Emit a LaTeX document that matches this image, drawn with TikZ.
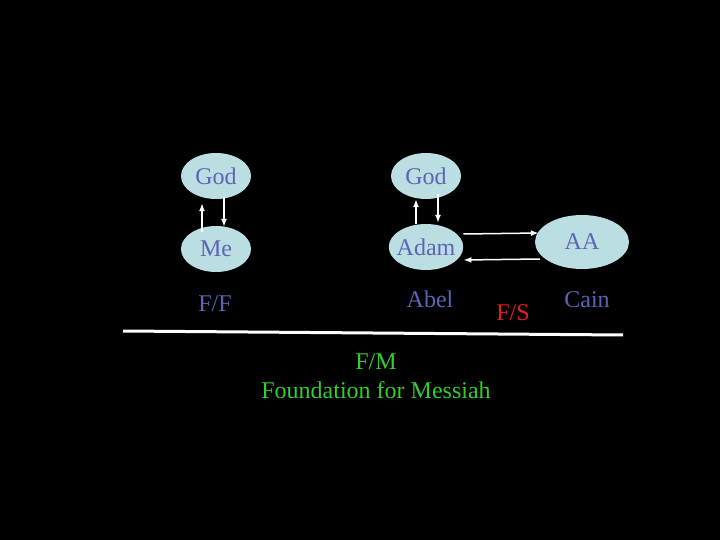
\documentclass[tikz,border=0pt]{standalone}
\usepackage{fontspec}
\setmainfont{Liberation Serif}
\usetikzlibrary{arrows,arrows.meta,positioning,shapes.geometric}
\definecolor{bubblefill}{RGB}{187,222,226}
\definecolor{bubbletext}{RGB}{92,100,180}
\definecolor{fsred}{RGB}{225,30,30}
\definecolor{fmgreen}{RGB}{50,205,50}

\begin{document}
\begin{tikzpicture}[x=1pt, y=-1pt, >={Latex[length=8pt, width=6pt]}]
    \tikzset{bubble/.style= {ellipse, fill=bubblefill
    , text=bubbletext
    , minimum width=70pt
    , minimum height=46pt
    , inner sep=0pt
    , font=\fontsize{24}{28}\selectfont
      }
    , label/.style= {text=bubbletext
    , font=\fontsize{24}{28}\selectfont
      }
    , link/.style= {draw=white, line width=1.5pt, ->}
    }

\fill[black] (0,0) rectangle (720,540);

\node [bubble] at (216,176) (godL) {God};
\node [bubble, below of=godL, node distance=73pt] (me) {Me};
\node [bubble, right of=godL, node distance=210pt] (godR) {God};
\node [bubble, inner xsep=-3pt, below of=godR, node distance=71pt] (adam) {Adam};
\node [bubble, minimum width=94pt, minimum height=54pt] at (582,242) (aa) {AA};

\node [label] at (215,304) (ff) {F/F};
\node [label] at (430,299) (abel) {Abel};
\node [label] at (587,300) (cain) {Cain};
\node [label, text=fsred] at (513,313) (fs) {F/S};
\node [label, text=fmgreen] at (376,362) (fm) {F/M};
\node [label, text=fmgreen, below of=fm, node distance=28pt] (fmtext) {Foundation for Messiah};

 \path[link]
  ([xshift=-14pt, yshift=-6pt]me.north) -- ([xshift=-14pt, yshift=-4pt]godL.south);
 \path[link]
  ([xshift=8pt, yshift=2pt]godL.south) -- ([xshift=8pt, yshift=-1pt]me.north);
 \path[link]
  ([xshift=-10pt]adam.north) -- ([xshift=-10pt]godR.south);
 \path[link]
  ([xshift=12pt, yshift=5pt]godR.south) -- ([xshift=12pt, yshift=1pt]adam.north);
 \path[link]
  ([yshift=13pt]adam.east) -- ([xshift=4pt, yshift=9pt]aa.west);
 \path[link]
  ([xshift=5pt, yshift=-17pt]aa.west) -- ([yshift=-13pt]adam.east);

\draw[white, line width=3pt] (123,331) -- (623,335);
\end{tikzpicture}
\end{document}
